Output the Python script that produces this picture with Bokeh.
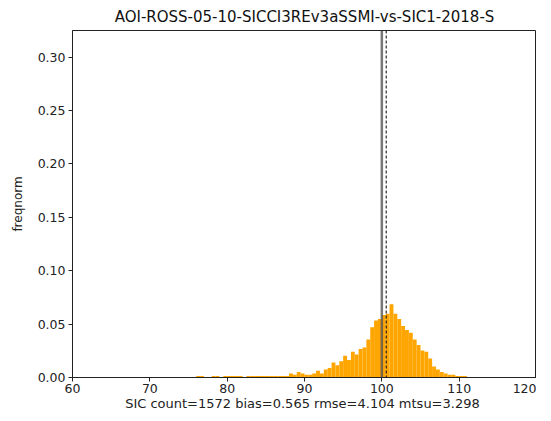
import numpy as np
from bokeh.plotting import figure
from bokeh.models import ColumnDataSource, Span, FixedTicker, NumeralTickFormatter, Range1d
from bokeh.embed import file_html
from bokeh.resources import INLINE

# ---- data ----
title_text = "AOI-ROSS-05-10-SICCI3REv3aSSMI-vs-SIC1-2018-S"
bin_start = 76.0
bin_width = 0.5
freqnorm = [
    0.0013, 0.0013, 0.0, 0.0, 0.0013, 0.0013, 0.0, 0.0013,          # 76.0 - 80.0
    0.0013, 0.0013, 0.0013, 0.0013, 0.0, 0.0013, 0.0013, 0.0013,    # 80.0 - 84.0
    0.0013, 0.0013, 0.0013, 0.0013, 0.0013, 0.0013, 0.0013, 0.0013, # 84.0 - 88.0
    0.0038, 0.0025, 0.0051, 0.0038, 0.0025, 0.0025, 0.0038, 0.0064, # 88.0 - 92.0
    0.0038, 0.0076, 0.0089, 0.0140, 0.0115, 0.0153, 0.0204, 0.0165, # 92.0 - 96.0
    0.0242, 0.0216, 0.0267, 0.0280, 0.0356, 0.0470, 0.0534, 0.0547, # 96.0 - 100.0
    0.0585, 0.0598, 0.0687, 0.0598, 0.0547, 0.0483, 0.0445, 0.0420, # 100.0 - 104.0
    0.0356, 0.0305, 0.0254, 0.0242, 0.0178, 0.0102, 0.0076, 0.0051, # 104.0 - 108.0
    0.0038, 0.0025, 0.0025, 0.0013, 0.0013, 0.0013,                 # 108.0 - 111.0
]
ref_value = 100.0
count = 1572
bias = 0.565
rmse = 4.104
mtsu = 3.298
x_ticks = [60, 70, 80, 90, 100, 110, 120]
y_ticks = [0.00, 0.05, 0.10, 0.15, 0.20, 0.25, 0.30]

edges = bin_start + bin_width * np.arange(len(freqnorm) + 1)
src = ColumnDataSource(dict(left=edges[:-1], right=edges[1:], top=freqnorm,
                            bottom=[0.0] * len(freqnorm)))

FONT = "DejaVu Sans"
p = figure(width=536, height=413, output_backend="svg", toolbar_location=None,
           x_range=Range1d(60, 120), y_range=Range1d(0, 0.325),
           min_border_left=72, min_border_right=0, min_border_top=30, min_border_bottom=26)

p.quad(left="left", right="right", top="top", bottom="bottom", source=src,
       fill_color="#FFA500", line_color=None)

p.add_layout(Span(location=ref_value, dimension="height", line_color="#555555",
                  line_width=2.5, line_alpha=0.8))
p.add_layout(Span(location=ref_value + bias, dimension="height", line_color="black",
                  line_width=1, line_dash="3 2"))

p.title.text = title_text
p.title.align = "center"
p.title.text_font = FONT
p.title.text_font_size = "15px"
p.title.text_font_style = "normal"
p.title.text_color = "#111111"

p.xgrid.visible = False
p.ygrid.visible = False
p.outline_line_color = "#222222"
p.outline_line_width = 1

p.xaxis.ticker = FixedTicker(ticks=x_ticks)
p.yaxis.ticker = FixedTicker(ticks=y_ticks)
p.yaxis.formatter = NumeralTickFormatter(format="0.00")
p.xaxis.axis_label = f"SIC  count={count} bias={bias} rmse={rmse} mtsu={mtsu}"
p.yaxis.axis_label = "freqnorm"

for ax in (p.xaxis, p.yaxis):
    ax.major_label_text_font = FONT
    ax.major_label_text_font_size = "12.5px"
    ax.major_label_text_color = "#222222"
    ax.axis_label_text_font = FONT
    ax.axis_label_text_font_size = "13px"
    ax.axis_label_text_font_style = "normal"
    ax.axis_label_text_color = "#222222"
    ax.minor_tick_line_color = None
    ax.major_tick_out = 4
    ax.major_tick_in = 0
    ax.major_tick_line_color = "#222222"
    ax.axis_line_color = "#222222"
    ax.major_label_standoff = 3

p.yaxis.axis_label_standoff = 10
p.yaxis.axis_label_text_font_size = "12px"
p.xaxis.axis_label_standoff = 0
p.xaxis.major_label_standoff = 2

open("out.html", "w").write(file_html(p, INLINE))
